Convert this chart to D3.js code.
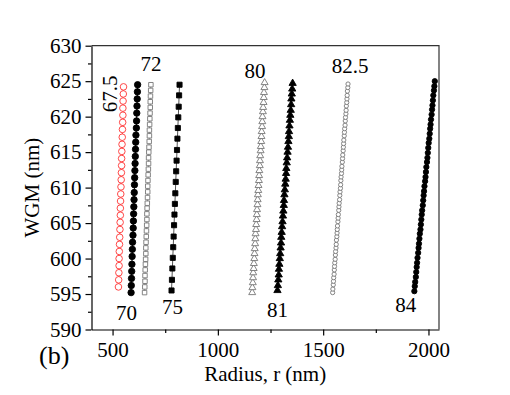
<!DOCTYPE html>
<html>
<head>
<script src="https://d3js.org/d3.v7.min.js"></script>
<style>
  body { margin: 0; padding: 0; background: #fff; }
  text { font-family: "Liberation Serif", "Times New Roman", serif; }
</style>
</head>
<body>
<div id="container"></div>
<script>
// WGM (nm) and radius (nm), one pair of arrays per series
var w67_5 = [596.0,597.0,598.0,599.0,600.0,601.0,602.0,603.0,604.1,605.1,606.1,607.1,608.1,609.1,610.1,611.1,612.1,613.1,614.1,615.1,616.1,617.1,618.2,619.2,620.2,621.2,622.2,623.2,624.2];
var r67_5 = [528,529,530,531,531,532,533,534,535,536,537,537,538,539,540,541,542,543,543,544,545,546,547,548,549,549,550,551,552];

var w70 = [595.2,596.2,597.2,598.2,599.2,600.3,601.3,602.3,603.3,604.3,605.3,606.3,607.3,608.3,609.3,610.4,611.4,612.4,613.4,614.4,615.4,616.4,617.4,618.4,619.4,620.5,621.5,622.5,623.5,624.5];
var r70 = [588,589,590,591,592,593,594,595,597,598,599,600,601,602,603,604,605,606,607,608,609,610,611,613,614,615,616,617,618,619];

var w72 = [595.2,596.0,596.8,597.6,598.4,599.2,599.9,600.7,601.5,602.3,603.1,603.9,604.7,605.5,606.3,607.1,607.8,608.6,609.4,610.2,611.0,611.8,612.6,613.4,614.2,615.0,615.7,616.5,617.3,618.1,618.9,619.7,620.5,621.3,622.1,622.9,623.7,624.5];
var r72 = [652,653,654,654,655,656,657,658,658,659,660,661,662,663,663,664,665,666,667,667,668,669,670,671,671,672,673,674,675,675,676,677,678,679,679,680,681,682];

var w75 = [595.5,597.0,598.6,600.1,601.6,603.1,604.7,606.2,607.7,609.2,610.8,612.3,613.8,615.3,616.9,618.4,619.9,621.4,623.0,624.5];
var r75 = [780,782,784,786,788,790,792,794,796,798,800,802,804,806,808,810,812,814,816,818];

var w80 = [595.2,595.9,596.6,597.3,598.0,598.6,599.3,600.0,600.7,601.4,602.1,602.8,603.5,604.1,604.8,605.5,606.2,606.9,607.6,608.3,609.0,609.6,610.3,611.0,611.7,612.4,613.1,613.8,614.5,615.2,615.8,616.5,617.2,617.9,618.6,619.3,620.0,620.7,621.3,622.0,622.7,623.4,624.1,624.8];
var r80 = [1163,1164,1166,1167,1168,1170,1171,1173,1174,1175,1177,1178,1179,1181,1182,1184,1185,1186,1188,1189,1190,1192,1193,1195,1196,1197,1199,1200,1201,1203,1204,1206,1207,1208,1210,1211,1212,1214,1215,1217,1218,1219,1221,1222];

var w81 = [595.5,596.2,597.0,597.7,598.5,599.2,600.0,600.7,601.5,602.2,603.0,603.7,604.5,605.2,606.0,606.7,607.5,608.2,609.0,609.7,610.5,611.2,612.0,612.7,613.5,614.2,615.0,615.7,616.5,617.2,617.9,618.7,619.5,620.2,620.9,621.7,622.5,623.2,623.9,624.7];
var r81 = [1283,1285,1287,1289,1290,1292,1294,1296,1298,1300,1301,1303,1305,1307,1309,1311,1313,1314,1316,1318,1320,1322,1324,1325,1327,1329,1331,1333,1335,1337,1338,1340,1342,1344,1346,1348,1349,1351,1353,1355];

var w82_5 = [595.2,595.7,596.3,596.8,597.3,597.8,598.4,598.9,599.4,599.9,600.5,601.0,601.5,602.0,602.6,603.1,603.6,604.1,604.6,605.2,605.7,606.2,606.8,607.3,607.8,608.3,608.9,609.4,609.9,610.4,611.0,611.5,612.0,612.5,613.0,613.6,614.1,614.6,615.2,615.7,616.2,616.7,617.3,617.8,618.3,618.8,619.4,619.9,620.4,620.9,621.5,622.0,622.5,623.0,623.6,624.1,624.6];
var r82_5 = [1545,1546,1548,1549,1550,1552,1553,1554,1555,1557,1558,1559,1561,1562,1563,1565,1566,1567,1568,1570,1571,1572,1574,1575,1576,1578,1579,1580,1582,1583,1584,1585,1587,1588,1589,1591,1592,1593,1595,1596,1597,1598,1600,1601,1602,1604,1605,1606,1608,1609,1610,1612,1613,1614,1615,1617,1618];

var w84 = [595.4,596.1,596.7,597.4,598.1,598.8,599.4,600.1,600.8,601.5,602.1,602.8,603.5,604.1,604.8,605.5,606.2,606.8,607.5,608.2,608.9,609.5,610.2,610.9,611.5,612.2,612.9,613.6,614.2,614.9,615.6,616.3,616.9,617.6,618.3,618.9,619.6,620.3,621.0,621.6,622.3,623.0,623.7,624.3,625.0];
var r84 = [1933,1935,1937,1940,1942,1944,1946,1948,1951,1953,1955,1957,1959,1962,1964,1966,1968,1970,1973,1975,1977,1979,1981,1984,1986,1988,1990,1993,1995,1997,1999,2001,2004,2006,2008,2010,2012,2015,2017,2019,2021,2023,2026,2028,2030];

var seriesLabels = ["67.5", "70", "72", "75", "80", "81", "82.5", "84"];
var xMajorTicks = [500, 1000, 1500, 2000];
var xMinorTicks = [750, 1250, 1750];
var yMajorTicks = [590, 595, 600, 605, 610, 615, 620, 625, 630];
var yMinorTicks = [592.5, 597.5, 602.5, 607.5, 612.5, 617.5, 622.5, 627.5];

var W = 510, H = 395;
var mLeft = 91.5, mRight = 439, mTop = 45.7, mBottom = 329.5;

var svg = d3.select("#container").append("svg")
    .attr("width", W).attr("height", H);

var x = d3.scaleLinear().domain([400, 2050]).range([mLeft, mRight]);
var y = d3.scaleLinear().domain([590, 630]).range([mBottom, mTop]);

// style per series: symbol, size, fill, stroke, label placement
var styles = [
    { w: w67_5, r: r67_5, sym: d3.symbolCircle, size: 34, fill: "#fff", stroke: "#ff3333", line: "#ff3333", end: "top", dx: -7, dy: 7, rot: true },
    { w: w70, r: r70, sym: d3.symbolCircle, size: 32, fill: "#000", stroke: "#000", line: "#000", end: "bottom", dx: -4.5, dy: 27 },
    { w: w72, r: r72, sym: d3.symbolSquare, size: 20, fill: "#fff", stroke: "#777", line: "#888", end: "top", dx: 0, dy: -14 },
    { w: w75, r: r75, sym: d3.symbolSquare, size: 26, fill: "#000", stroke: "#000", line: "#555", end: "bottom", dx: 1, dy: 24 },
    { w: w80, r: r80, sym: d3.symbolTriangle, size: 21, fill: "#fff", stroke: "#777", line: "#888", end: "top", dx: -9.5, dy: -4.5 },
    { w: w81, r: r81, sym: d3.symbolTriangle, size: 23, fill: "#000", stroke: "#000", line: "#000", end: "bottom", dx: 0, dy: 27 },
    { w: w82_5, r: r82_5, sym: d3.symbolCircle, size: 14, fill: "#fff", stroke: "#777", line: "#888", end: "top", dx: 2, dy: -11 },
    { w: w84, r: r84, sym: d3.symbolCircle, size: 22, fill: "#000", stroke: "#000", line: "#000", end: "bottom", dx: -8.6, dy: 21 }
];

// axes
var fontSize = "21px";
svg.append("g").attr("transform", "translate(0," + mBottom + ")")
    .call(d3.axisBottom(x).tickValues(xMajorTicks).tickFormat(d3.format("d"))
        .tickSize(6).tickSizeOuter(0).tickPadding(7));
svg.append("g").attr("transform", "translate(0," + mBottom + ")")
    .call(d3.axisBottom(x).tickValues(xMinorTicks).tickSize(3.5).tickSizeOuter(0).tickFormat(""))
    .select(".domain").remove();
svg.append("g").attr("transform", "translate(" + mLeft + ",0)")
    .call(d3.axisLeft(y).tickValues(yMajorTicks).tickFormat(d3.format("d"))
        .tickSize(6).tickSizeOuter(0).tickPadding(4));
svg.append("g").attr("transform", "translate(" + mLeft + ",0)")
    .call(d3.axisLeft(y).tickValues(yMinorTicks).tickSize(3.5).tickSizeOuter(0).tickFormat(""))
    .select(".domain").remove();

svg.selectAll(".tick text")
    .style("font-family", "'Liberation Serif', 'Times New Roman', serif")
    .style("font-size", fontSize)
    .attr("fill", "#000");
svg.selectAll(".domain, .tick line").attr("stroke", "#000").attr("stroke-width", 1.2);

// top and right frame
svg.append("path")
    .attr("d", "M" + mLeft + "," + mTop + "H" + mRight + "V" + mBottom)
    .attr("fill", "none").attr("stroke", "#333").attr("stroke-width", 1.2);

// series
var line = d3.line().x(d => x(d[0])).y(d => y(d[1]));
styles.forEach(function (s, i) {
    var pts = s.r.map((rv, k) => [rv, s.w[k]]);
    var g = svg.append("g");
    g.append("path").datum(pts)
        .attr("d", line).attr("fill", "none")
        .attr("stroke", s.line).attr("stroke-width", 1);
    g.selectAll("path.pt").data(pts).enter().append("path")
        .attr("class", "pt")
        .attr("transform", d => "translate(" + x(d[0]) + "," + y(d[1]) + ")")
        .attr("d", d3.symbol().type(s.sym).size(s.size))
        .attr("fill", s.fill).attr("stroke", s.stroke).attr("stroke-width", 0.9);

    var p = s.end === "top" ? pts[pts.length - 1] : pts[0];
    var lx = x(p[0]) + s.dx, ly = y(p[1]) + s.dy;
    svg.append("text")
        .attr("x", lx).attr("y", ly)
        .attr("text-anchor", "middle")
        .attr("transform", s.rot ? "rotate(-90," + lx + "," + ly + ")" : null)
        .style("font-size", fontSize)
        .text(seriesLabels[i]);
});

// axis titles
svg.append("text")
    .attr("x", (mLeft + mRight) / 2).attr("y", 381)
    .attr("text-anchor", "middle")
    .style("font-size", fontSize)
    .text("Radius, r (nm)");
svg.append("text")
    .attr("transform", "translate(39," + (mTop + mBottom) / 2 + ") rotate(-90)")
    .attr("text-anchor", "middle")
    .style("font-size", fontSize)
    .text("WGM (nm)");
svg.append("text")
    .attr("x", 39).attr("y", 364)
    .style("font-size", "26px")
    .text("(b)");
</script>
</body>
</html>
